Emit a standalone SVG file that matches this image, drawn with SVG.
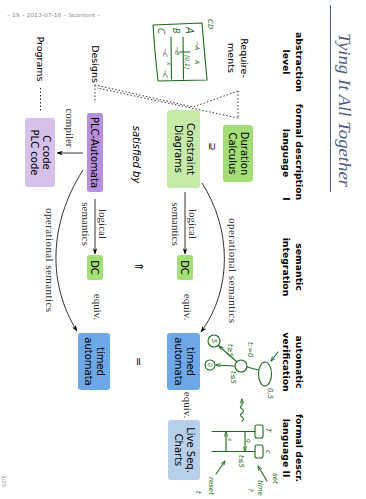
<svg xmlns="http://www.w3.org/2000/svg" width="366" height="499" viewBox="0 0 366 499">
<defs>
<style>
text{font-family:"DejaVu Sans","Liberation Sans",sans-serif}
.hdr{font-weight:bold;font-size:9.3px;text-anchor:middle;fill:#000}
.row{font-size:9.5px;text-anchor:middle;fill:#000}
.bt{font-size:10px;text-anchor:middle;fill:#000}
.lbl{font-family:"Liberation Serif",serif;font-size:11px;fill:#333;text-anchor:middle}
.hw{fill:none;stroke:#1f6a1f;stroke-width:1.1;stroke-linecap:round;stroke-linejoin:round}
.hwt{font-style:italic;fill:#1f6a1f}
.dot{fill:none;stroke:#333;stroke-width:1;stroke-dasharray:1.5 2}
.conn{fill:none;stroke:#000;stroke-width:0.8}
</style>
<marker id="ah" viewBox="0 0 8 6" refX="7.5" refY="3" markerWidth="6" markerHeight="4.5" markerUnits="userSpaceOnUse" orient="auto">
<path d="M0,0 L8,3 L0,6 L2,3 z" fill="#000"/>
</marker>
<marker id="gh" viewBox="0 0 8 6" refX="7.5" refY="3" markerWidth="5" markerHeight="4" markerUnits="userSpaceOnUse" orient="auto">
<path d="M0,0 L8,3 L0,6" fill="none" stroke="#1f6a1f" stroke-width="1.2"/>
</marker>
</defs>
<rect width="366" height="499" fill="#fff"/>
<text x="7" y="17" font-size="5.5" fill="#8a8a8a" textLength="93" lengthAdjust="spacingAndGlyphs">– 19 – 2013-07-16 – Scontent –</text>
<text x="139" y="270" font-size="11" text-anchor="middle" fill="#000">⇒</text>
<g transform="translate(366,0) rotate(90)">
  <g id="title">
    <text x="33" y="27.5" font-family="Liberation Serif,serif" font-style="italic" font-size="17" fill="#4a5a8a" textLength="154" lengthAdjust="spacingAndGlyphs" style="font-family:'Liberation Serif',serif">Tying It All Together</text>
    <line x1="5" y1="35.5" x2="192" y2="35.5" stroke="#4a5a8a" stroke-width="1"/>
  </g>
  <g id="headers">
    <text class="hdr" x="62" y="70">abstraction</text>
    <text class="hdr" x="62" y="83">level</text>
    <text class="hdr" x="152" y="70">formal description</text>
    <text class="hdr" x="153" y="83">language</text>
    <text class="hdr" x="199" y="83">I</text>
    <text class="hdr" x="267" y="70">semantic</text>
    <text class="hdr" x="267" y="83">integration</text>
    <text class="hdr" x="362" y="70">automatic</text>
    <text class="hdr" x="362" y="83">verification</text>
    <text class="hdr" x="448" y="70">formal descr.</text>
    <text class="hdr" x="448" y="83">language II</text>
  </g>
  <g id="rows">
    <text class="row" x="58" y="125">Require-</text>
    <text class="row" x="58" y="138">ments</text>
    <text class="row" x="64" y="274">Designs</text>
    <text class="row" x="59" y="329">Programs</text>
  </g>
  <g id="duration-calculus">
    <rect x="125" y="113" width="57" height="30" rx="3" fill="#a3de77"/>
    <text class="bt" x="153.5" y="125.5">Duration</text>
    <text class="bt" x="153.5" y="137.5">Calculus</text>
  </g>
  <g id="constraint-diagrams">
    <rect x="110" y="166" width="78" height="33" rx="3" fill="#c6eaa8"/>
    <text class="bt" x="149" y="179">Constraint</text>
    <text class="bt" x="149" y="191">Diagrams</text>
  </g>
  <g id="plc-automata">
    <rect x="113" y="263" width="79" height="16" rx="2.5" fill="#b88fdb"/>
    <text class="bt" x="152.5" y="274.7">PLC-Automata</text>
  </g>
  <g id="c-code">
    <rect x="118" y="311" width="69" height="30" rx="3" fill="#d6c1ea"/>
    <text class="bt" x="152.5" y="323">C code</text>
    <text class="bt" x="152.5" y="335">PLC code</text>
  </g>
  <g id="dc-req">
    <rect x="255" y="173" width="25" height="16" rx="2.5" fill="#a3de77"/>
    <text class="bt" x="267.5" y="184.7">DC</text>
  </g>
  <g id="dc-des">
    <rect x="255" y="263" width="25" height="16" rx="2.5" fill="#a3de77"/>
    <text class="bt" x="267.5" y="274.7">DC</text>
  </g>
  <g id="ta-req">
    <rect x="333" y="166" width="57" height="33" rx="3" fill="#6fa8e8"/>
    <text class="bt" x="361.5" y="179">timed</text>
    <text class="bt" x="361.5" y="191">automata</text>
  </g>
  <g id="ta-des">
    <rect x="333" y="256" width="57" height="32" rx="3" fill="#6fa8e8"/>
    <text class="bt" x="361.5" y="269">timed</text>
    <text class="bt" x="361.5" y="281">automata</text>
  </g>
  <g id="lsc">
    <rect x="420" y="166" width="60" height="32" rx="3" fill="#b7cfea"/>
    <text class="bt" x="450" y="179">Live Seq.</text>
    <text class="bt" x="450" y="191">Charts</text>
  </g>
  <g id="symbols">
    <text x="146.5" y="157" font-size="10" text-anchor="middle">⊇</text>
    <text x="154.5" y="233" font-size="10" font-style="italic" text-anchor="middle">satisfied by</text>
    <text x="361.5" y="231.5" font-size="11" text-anchor="middle">=</text>
    <text x="475" y="364" font-size="5.5" fill="#8a8a8a">3/25</text>
  </g>
  <g id="connectors">
    <path class="dot" d="M88,325.5 L112,325.5"/>
    <path class="dot" d="M85,271 L103,271"/>
    <path class="dot" d="M91,128 L118,128"/>
    <path class="dot" d="M91,128 L107,173 L85,271"/>
    <path class="dot" d="M118,128 L109,170 L88,269"/>
    <path class="conn" d="M192,181 L254,181" marker-end="url(#ah)"/>
    <path class="conn" d="M199,271 L254,271" marker-end="url(#ah)"/>
    <path class="conn" d="M153,283 L153,309" marker-end="url(#ah)"/>
    <path class="conn" d="M183,164 C230,134 290,134 332,165" marker-end="url(#ah)"/>
    <path class="conn" d="M170,283 C225,318 285,318 331,289" marker-end="url(#ah)"/>
    <text class="lbl" x="224" y="177">logical</text>
    <text class="lbl" x="224" y="194">semantics</text>
    <text class="lbl" x="224" y="267">logical</text>
    <text class="lbl" x="224" y="284">semantics</text>
    <text class="lbl" x="128" y="300.5">compiler</text>
    <text class="lbl" x="307" y="272">equiv.</text>
    <text class="lbl" x="307" y="182.5">equiv.</text>
    <text class="lbl" x="405" y="182.5">equiv.</text>
    <text class="lbl" x="270.5" y="137.5" textLength="105" lengthAdjust="spacing">operational semantics</text>
    <text class="lbl" x="260" y="320.5" textLength="104" lengthAdjust="spacing">operational semantics</text>
  </g>
  <g id="sketch-cd">
    <path class="hw" d="M23,164 L52,161.5 L80,159 L80.5,184 L81,208 L52,211 L25,213 L24,188 Z"/>
    <path class="hw" d="M37,183 L79,182.5 M37,195 L79,194.5 M52,176 L52,186"/>
    <text class="hwt" x="19" y="158.5" font-size="7">CD</text>
    <text class="hwt" x="27" y="180" font-size="10">A</text>
    <text class="hwt" x="41" y="171" font-size="6">¬A</text>
    <text class="hwt" x="60" y="171" font-size="6">A</text>
    <text class="hwt" x="55" y="181" font-size="6">[0,1]</text>
    <text class="hwt" x="28" y="193" font-size="8">B</text>
    <text class="hwt" x="46" y="191" font-size="6">¬B</text>
    <text class="hwt" x="28" y="208" font-size="9">C</text>
    <text class="hwt" x="48" y="203" font-size="6">¬C</text>
    <text class="hwt" x="62" y="199" font-size="6">x</text>
    <text class="hwt" x="69" y="203" font-size="6">¬C</text>
  </g>
  <g id="sketch-ta">
    <circle class="hw" cx="341" cy="152" r="6"/>
    <circle class="hw" cx="365" cy="156" r="5"/>
    <circle class="hw" cx="366" cy="125" r="6"/>
    <ellipse class="hw" cx="374" cy="101" rx="12" ry="6.5"/>
    <path class="hw" d="M362,129 L346,147" marker-end="url(#gh)"/>
    <path class="hw" d="M366,131 L365,150" marker-end="url(#gh)"/>
    <path class="hw" d="M370,107.5 L367,119"/>
    <path class="hw" d="M352,88 L361,95" marker-end="url(#gh)"/>
    <text class="hwt" x="341" y="154.5" font-size="7" text-anchor="middle">5</text>
    <text class="hwt" x="365" y="158.5" font-size="6" text-anchor="middle">0</text>
    <text class="hwt" x="342" y="118" font-size="7">t:=0</text>
    <text class="hwt" x="344" y="138" font-size="7">t≥5</text>
    <text class="hwt" x="371" y="135" font-size="7">t≤5</text>
    <text class="hwt" x="388" y="98" font-size="7">0,5</text>
  </g>
  <g id="sketch-lsc">
    <path class="hw" d="M421,124 q-2,-3 -4,0 t-4,0 t-4,0 t-4,0 L399,124" marker-end="url(#gh)"/>
    <rect class="hw" x="425" y="103" width="13" height="8" rx="2"/>
    <rect class="hw" x="445" y="103" width="13" height="8" rx="2"/>
    <path class="hw" d="M431.5,111 L431.5,154 M451.5,111 L451.5,154"/>
    <path class="hw" d="M431.5,121 L451,121" marker-end="url(#gh)"/>
    <path class="hw" d="M451.5,140 L432,140" marker-end="url(#gh)"/>
    <path class="hw" d="M481,99 L466,108" marker-end="url(#gh)"/>
    <path class="hw" d="M474,150 L461,141" marker-end="url(#gh)"/>
    <text class="hwt" x="428" y="100" font-size="7">T</text>
    <text class="hwt" x="450" y="100" font-size="7">c</text>
    <text class="hwt" x="439" y="119" font-size="6">q</text>
    <text class="hwt" x="438" y="138" font-size="6">s</text>
    <text class="hwt" x="455" y="127" font-size="7">t≤5</text>
    <text class="hwt" x="473" y="93" font-size="7">set</text>
    <text class="hwt" x="480" y="108" font-size="7">time</text>
    <text class="hwt" x="488" y="118" font-size="7">?</text>
    <text class="hwt" x="477" y="157" font-size="7">reset</text>
    <text class="hwt" x="491" y="170" font-size="7">t</text>
  </g>
</g>
</svg>
